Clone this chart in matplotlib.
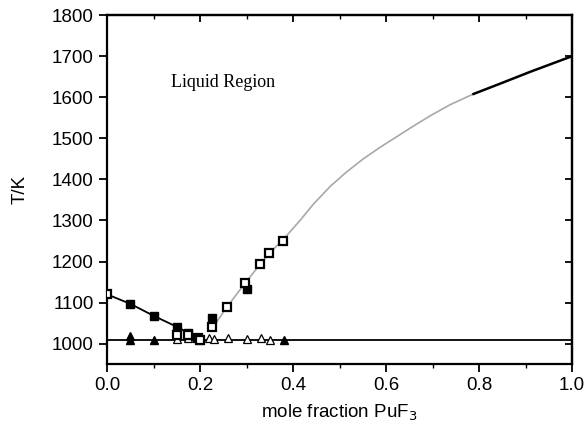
import matplotlib
matplotlib.use("Agg")
import matplotlib.pyplot as plt
from matplotlib.ticker import MultipleLocator

# liquidus, LiF-rich side (black line)
liq_left_x = [0.0, 0.05, 0.10, 0.15, 0.20]
liq_left_t = [1120, 1097, 1068, 1041, 1012]

# liquidus, PuF3-rich side (calculated, grey)
liq_right_x = [0.225, 0.257, 0.30, 0.33, 0.35, 0.38, 0.415, 0.444, 0.48, 0.515,
               0.551, 0.587, 0.623, 0.652, 0.695, 0.738, 0.788]
liq_right_t = [1035, 1088, 1152, 1194, 1221, 1255, 1300, 1340, 1383, 1418,
               1450, 1478, 1504, 1525, 1555, 1582, 1608]

# liquidus near pure PuF3 (black)
liq_top_x = [0.788, 0.845, 0.91, 1.0]
liq_top_t = [1608, 1633, 1662, 1700]

# eutectic line
eut_x = [0.0, 1.0]
eut_t = [1009, 1009]

# measured points
open_sq_x = [0.0, 0.15, 0.175, 0.195, 0.20, 0.225, 0.257, 0.297, 0.329, 0.349, 0.378]
open_sq_t = [1120, 1020, 1020, 1014, 1010, 1040, 1090, 1147, 1193, 1220, 1250]
fill_sq_x = [0.05, 0.10, 0.15, 0.175, 0.225, 0.30]
fill_sq_t = [1097, 1068, 1041, 1025, 1063, 1133]
fill_tri_x = [0.05, 0.05, 0.10, 0.38]
fill_tri_t = [1018, 1010, 1010, 1009]
open_tri_x = [0.15, 0.175, 0.20, 0.22, 0.23, 0.26, 0.30, 0.33, 0.35]
open_tri_t = [1012, 1014, 1010, 1013, 1011, 1014, 1011, 1014, 1009]

plt.rcParams['font.family'] = ['Liberation Sans', 'DejaVu Sans']

fig = plt.figure(figsize=(5.88, 4.32), dpi=100)
ax = fig.add_axes([0.182, 0.157, 0.791, 0.808])

ax.plot(eut_x, eut_t, color='black', lw=1.3, zorder=2)
ax.plot(liq_left_x, liq_left_t, color='black', lw=1.3, zorder=2)
ax.plot(liq_right_x, liq_right_t, color='#a8a8a8', lw=1.2, zorder=1)
ax.plot(liq_top_x, liq_top_t, color='black', lw=1.8, zorder=2)

ax.plot(fill_sq_x, fill_sq_t, 's', color='black', ms=5.5, ls='none', zorder=3)
ax.plot(open_sq_x, open_sq_t, 's', mfc='white', mec='black', mew=1.6, ms=5.5, ls='none', zorder=4)
ax.plot(fill_tri_x, fill_tri_t, '^', color='black', ms=6, ls='none', zorder=3)
ax.plot(open_tri_x, open_tri_t, '^', mfc='white', mec='black', mew=0.9, ms=6, ls='none', zorder=3)

ax.text(0.25, 1635, 'Liquid Region', family=['Liberation Serif', 'DejaVu Serif'],
        fontsize=13, ha='center', va='center')

ax.set_xlim(0, 1.0)
ax.set_ylim(950, 1800)
ax.xaxis.set_major_locator(MultipleLocator(0.2))
ax.xaxis.set_minor_locator(MultipleLocator(0.1))
ax.yaxis.set_major_locator(MultipleLocator(100))

ax.set_xlabel('mole fraction PuF$_3$', fontsize=13.5, labelpad=6)
ax.set_ylabel('T/K', fontsize=13.5, labelpad=17)

for s in ax.spines.values():
    s.set_linewidth(1.6)
ax.tick_params(axis='both', which='major', direction='out', length=6, width=1.3, labelsize=13.5,
               top=False, right=False)
ax.tick_params(axis='x', which='minor', direction='out', length=3, width=1.0, top=False)

# inward ticks on top and right
sec_x = ax.secondary_xaxis('top')
sec_x.xaxis.set_major_locator(MultipleLocator(0.2))
sec_x.xaxis.set_minor_locator(MultipleLocator(0.1))
sec_x.tick_params(which='major', direction='in', length=5, width=1.3, labeltop=False)
sec_x.tick_params(which='minor', direction='in', length=3, width=1.0)
sec_y = ax.secondary_yaxis('right')
sec_y.yaxis.set_major_locator(MultipleLocator(100))
sec_y.tick_params(which='major', direction='in', length=5, width=1.3, labelright=False)
sec_y.tick_params(which='minor', right=False)
for s in list(sec_x.spines.values()) + list(sec_y.spines.values()):
    s.set_linewidth(1.6)

fig.savefig('out.png', dpi=100)
